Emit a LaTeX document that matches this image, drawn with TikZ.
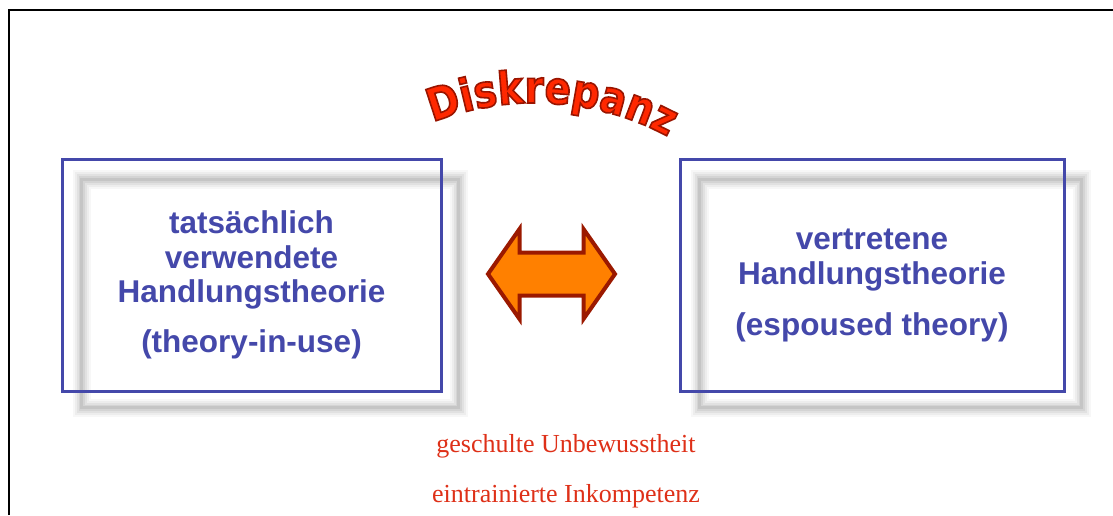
\documentclass[tikz,border=0pt]{standalone}
\usepackage{fontspec}
\setmainfont{Liberation Serif}
\newfontfamily\boxfont{Liberation Sans}
\newfontfamily\archfont[FakeStretch=0.86]{DejaVu Sans}
\usetikzlibrary{shapes.arrows,decorations.text,backgrounds}
\definecolor{theoryblue}{RGB}{68,72,170}
\definecolor{arrowfill}{RGB}{255,128,0}
\definecolor{arrowrim}{RGB}{155,25,0}
\definecolor{diskred}{RGB}{255,40,0}
\definecolor{notered}{RGB}{222,48,24}
\newcommand\rimon{\special{pdf:literal direct 0.6 0.08 0 RG 1.6 w 2 Tr}}

\begin{document}
\begin{tikzpicture}[x=1pt,y=1pt,
    theorybox/.style={draw=theoryblue,line width=3pt,minimum width=#1,minimum height=231pt,inner sep=0pt},
    theorytext/.style={font=\boxfont\bfseries\fontsize{31.5}{34.5}\selectfont,text=theoryblue,align=center,inner sep=0pt},
    note/.style={font=\fontsize{26}{26}\selectfont,text=notered,inner sep=0pt,anchor=base}]
    \useasboundingbox (0,0) rectangle (1113,515);
    \draw[line width=2pt] (9,0) -- (9,505) -- (1113,505);

    \node[theorybox=379pt] (inuse)    at (251.5,239.5) {};
    \node[theorybox=384pt] (espoused) at (872,239.5)   {};
    \begin{scope}[on background layer]
      \foreach \b in {inuse,espoused}
        \foreach \w/\o in {18/0.03,14/0.04,10/0.05,6/0.06,3/0.07}
          \draw[line width=\w pt,black,opacity=\o]
            ([shift={(21,-15)}]\b.south west) rectangle ([shift={(16,-21)}]\b.north east);
    \end{scope}

    \node[theorytext] (inusetext)    at ([yshift=-9.5pt]inuse.center) {tatsächlich\\verwendete\\Handlungstheorie\\[15pt](theory-in-use)};
    \node[theorytext] (espousedtext) at ([yshift=-10pt]espoused.center) {vertretene\\Handlungstheorie\\[17pt](espoused theory)};

    \node[double arrow,draw=arrowrim,fill=arrowfill,line width=4pt,inner xsep=0pt,inner ysep=19.5pt,
          minimum height=127pt,double arrow head extend=23.5pt,double arrow tip angle=110] (gap) at (551.5,241) {};

    \node[note] (skill)        at (566,63) {geschulte Unbewusstheit};
    \node[note] (incompetence) at (566,13) {eintrainierte Inkompetenz};

    \coordinate (archub) at (535,132);
    \path[decorate,decoration={text along path,text align=center,
          text={|\archfont\bfseries\fontsize{45}{45}\selectfont\color{diskred}\rimon|Diskrepanz}}]
      (archub) ++(114:280) arc[start angle=114,end angle=59,radius=280];
\end{tikzpicture}
\end{document}
